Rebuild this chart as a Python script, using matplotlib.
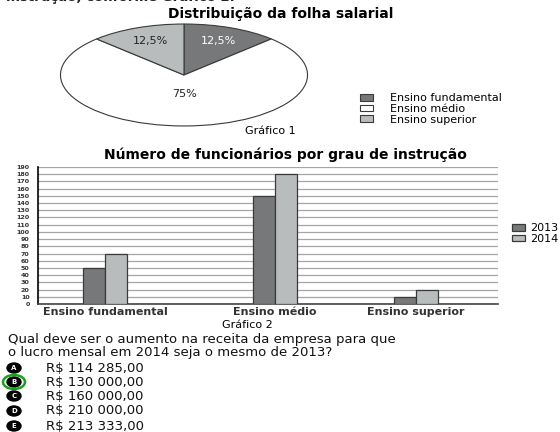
import numpy as np
import matplotlib.pyplot as plt
from matplotlib.patches import Ellipse

plt.rcParams['font.family'] = ['DejaVu Sans']

# pie data (Grafico 1)
pie_labels = ['Ensino fundamental', 'Ensino médio', 'Ensino superior']
pie_values = [12.5, 75, 12.5]

# bar data (Grafico 2)
categories = ['Ensino fundamental', 'Ensino médio', 'Ensino superior']
n_2013 = [50, 150, 10]
n_2014 = [70, 180, 20]
years = ['2013', '2014']

# answer options
question = ['Qual deve ser o aumento na receita da empresa para que',
            'o lucro mensal em 2014 seja o mesmo de 2013?']
letters = ['A', 'B', 'C', 'D', 'E']
answers = ['R$ 114 285,00', 'R$ 130 000,00', 'R$ 160 000,00',
           'R$ 210 000,00', 'R$ 213 333,00']

W, H = 560, 432
fig = plt.figure(figsize=(5.6, 4.32), dpi=100)

def fx(x):
    return x / W

def fy(y):
    return 1 - y / H

dark = '#77787a'
light = '#b9bcbc'
edge = '#3a3a3a'

# clipped text from previous line
fig.text(fx(6), fy(-3), 'instrução, conforme Gráfico 2.', fontsize=9.5,
         fontweight='bold', va='center', color='#222')

# ---- pie ----
fig.text(fx(281), fy(14), 'Distribuição da folha salarial', fontsize=10,
         fontweight='bold', ha='center', va='center')
axp = fig.add_axes([fx(58), fy(127), fx(310) - fx(58), fy(23) - fy(127)])
wedges, texts, autotexts = axp.pie(
    pie_values, colors=[dark, 'white', light], startangle=90, counterclock=False,
    autopct=lambda p: ('%.1f%%' % p).replace('.', ',') if p % 1 else '%d%%' % round(p),
    pctdistance=0.72, wedgeprops=dict(edgecolor=edge, linewidth=0.8),
    textprops=dict(fontsize=8, color='#222'))
axp.set_aspect('auto')
axp.set_xlim(-1.02, 1.02)
axp.set_ylim(-1.02, 1.02)
autotexts[0].set_color('white')
autotexts[1].set_position((0, -0.38))

fig.legend(wedges, pie_labels, loc='upper left',
           bbox_to_anchor=(fx(356), fy(89)), frameon=False, fontsize=8,
           handlelength=1.1, handleheight=0.5, handletextpad=1.6,
           labelspacing=0.05, borderaxespad=0)
fig.text(fx(270), fy(131), 'Gráfico 1', fontsize=8, ha='center', va='center')

# ---- bars ----
fig.text(fx(285), fy(155), 'Número de funcionários por grau de instrução',
         fontsize=10, fontweight='bold', ha='center', va='center')
axb = fig.add_axes([fx(38), fy(304), fx(498) - fx(38), fy(167) - fy(304)])
group_pos = np.array([0, 1, 1.83])
bw = 0.13
b1 = axb.bar(group_pos - bw / 2, n_2013, bw, color=dark, edgecolor=edge,
             linewidth=0.9, zorder=3)
b2 = axb.bar(group_pos + bw / 2, n_2014, bw, color=light, edgecolor=edge,
             linewidth=0.9, zorder=3)
axb.set_xlim(-0.394, 2.312)
axb.set_ylim(0, 190)
axb.set_yticks(np.arange(0, 191, 10))
axb.tick_params(axis='y', labelsize=4.6, length=0, pad=6)
axb.set_xticks(group_pos)
axb.set_xticklabels(categories, fontsize=8, fontweight='bold', color='#333')
axb.tick_params(axis='x', length=0, pad=2)
for lab in axb.get_yticklabels():
    lab.set_fontweight('bold')
    lab.set_color('#333')
axb.grid(axis='y', color='#a5a5a5', linewidth=0.9, zorder=0)
for s in ['top', 'right']:
    axb.spines[s].set_visible(False)
axb.spines['left'].set_linewidth(1.2)
axb.spines['bottom'].set_linewidth(1.2)
axb.spines['bottom'].set_color('#444')

fig.legend([b1, b2], years, loc='upper left', bbox_to_anchor=(fx(508), fy(219)),
           frameon=False, fontsize=8, handlelength=1.1, handleheight=0.5,
           handletextpad=0.5, labelspacing=0.05, borderaxespad=0)
fig.text(fx(247), fy(325), 'Gráfico 2', fontsize=8, ha='center', va='center')

# ---- question ----
fig.text(fx(8), fy(339), question[0], fontsize=9.5, va='center', color='#111')
fig.text(fx(8), fy(352.5), question[1], fontsize=9.5, va='center', color='#111')

row_y = [368, 382, 396, 411, 426]
for i in range(len(answers)):
    y = row_y[i]
    fig.patches.append(Ellipse((fx(14), fy(y)), fx(14), 10 / H, color='black',
                               transform=fig.transFigure, figure=fig))
    fig.text(fx(14), fy(y), letters[i], fontsize=5, color='white',
             fontweight='bold', ha='center', va='center')
    if letters[i] == 'B':
        fig.patches.append(Ellipse((fx(14), fy(y)), fx(22), 14 / H, fill=False,
                                   edgecolor='#1aa31a', linewidth=1.8,
                                   transform=fig.transFigure, figure=fig))
    fig.text(fx(46), fy(y), answers[i], fontsize=9.5, va='center', color='#111')

fig.savefig('out.png', dpi=100)
